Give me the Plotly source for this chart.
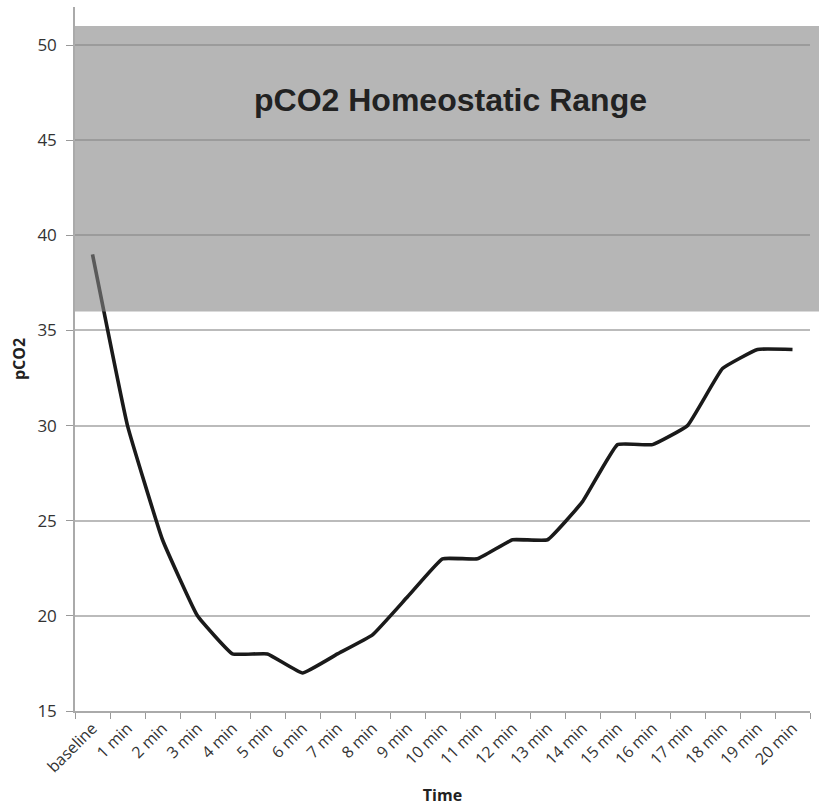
import plotly.graph_objects as go

categories = ["baseline"] + [f"{i} min" for i in range(1, 21)]
pco2 = [39, 30, 24, 20, 18, 18, 17, 18, 19, 21, 23, 23, 24, 24, 26, 29, 29, 30, 33, 34, 34]
range_low = 36
range_high = 51
band_label = "pCO2 Homeostatic Range"
y_min, y_max = 15, 52

fig = go.Figure()
fig.add_trace(go.Scatter(
    x=categories, y=pco2, mode="lines",
    line=dict(color="#1a1a1a", width=3.6, shape="spline", smoothing=0.3),
    showlegend=False, hoverinfo="skip", cliponaxis=False))

def to_paper(v):
    return (v - y_min) / (y_max - y_min)

fig.add_shape(type="rect", xref="paper", yref="paper", x0=0, x1=1.02,
              y0=to_paper(range_low), y1=to_paper(range_high), fillcolor="rgb(133,133,133)",
              opacity=0.6, line=dict(width=0), layer="above")
fig.add_annotation(xref="paper", yref="y", x=0.511, y=47.1, text=f"<b>{band_label}</b>",
                   showarrow=False, font=dict(family="Liberation Sans, Arial", size=32, color="#222"))

fig.update_layout(
    width=819, height=806,
    margin=dict(l=75, r=9, t=7, b=95),
    paper_bgcolor="white", plot_bgcolor="white",
    font=dict(family="Open Sans, DejaVu Sans", size=17, color="#333"),
)
fig.update_xaxes(
    type="category", range=[-0.5, 20.5], tickangle=-45, tickson="boundaries", automargin=False,
    ticks="outside", ticklen=6, tickcolor="#999", showline=True, linecolor="#aaa", linewidth=1.5,
    showgrid=False, tickfont=dict(size=16, color="#333"),
    title=dict(text="<b>Time</b>", font=dict(family="Open Sans, DejaVu Sans", size=16, color="#222"), standoff=14),
)
fig.update_yaxes(
    range=[y_min, y_max], tick0=15, dtick=5, ticks="outside", ticklen=7, tickcolor="#999", automargin=False,
    showline=True, linecolor="#aaa", linewidth=1.5, showgrid=True, gridcolor="#bbb", gridwidth=1.5,
    zeroline=False, tickfont=dict(size=17, color="#333"), ticklabelstandoff=6,
    title=dict(text="<b>pCO2</b>", font=dict(family="Open Sans, DejaVu Sans", size=16, color="#222"), standoff=8),
)
fig.write_html("out.html", config={"displayModeBar": False},
               post_script="document.body.style.margin='0';document.body.style.overflow='hidden';")
